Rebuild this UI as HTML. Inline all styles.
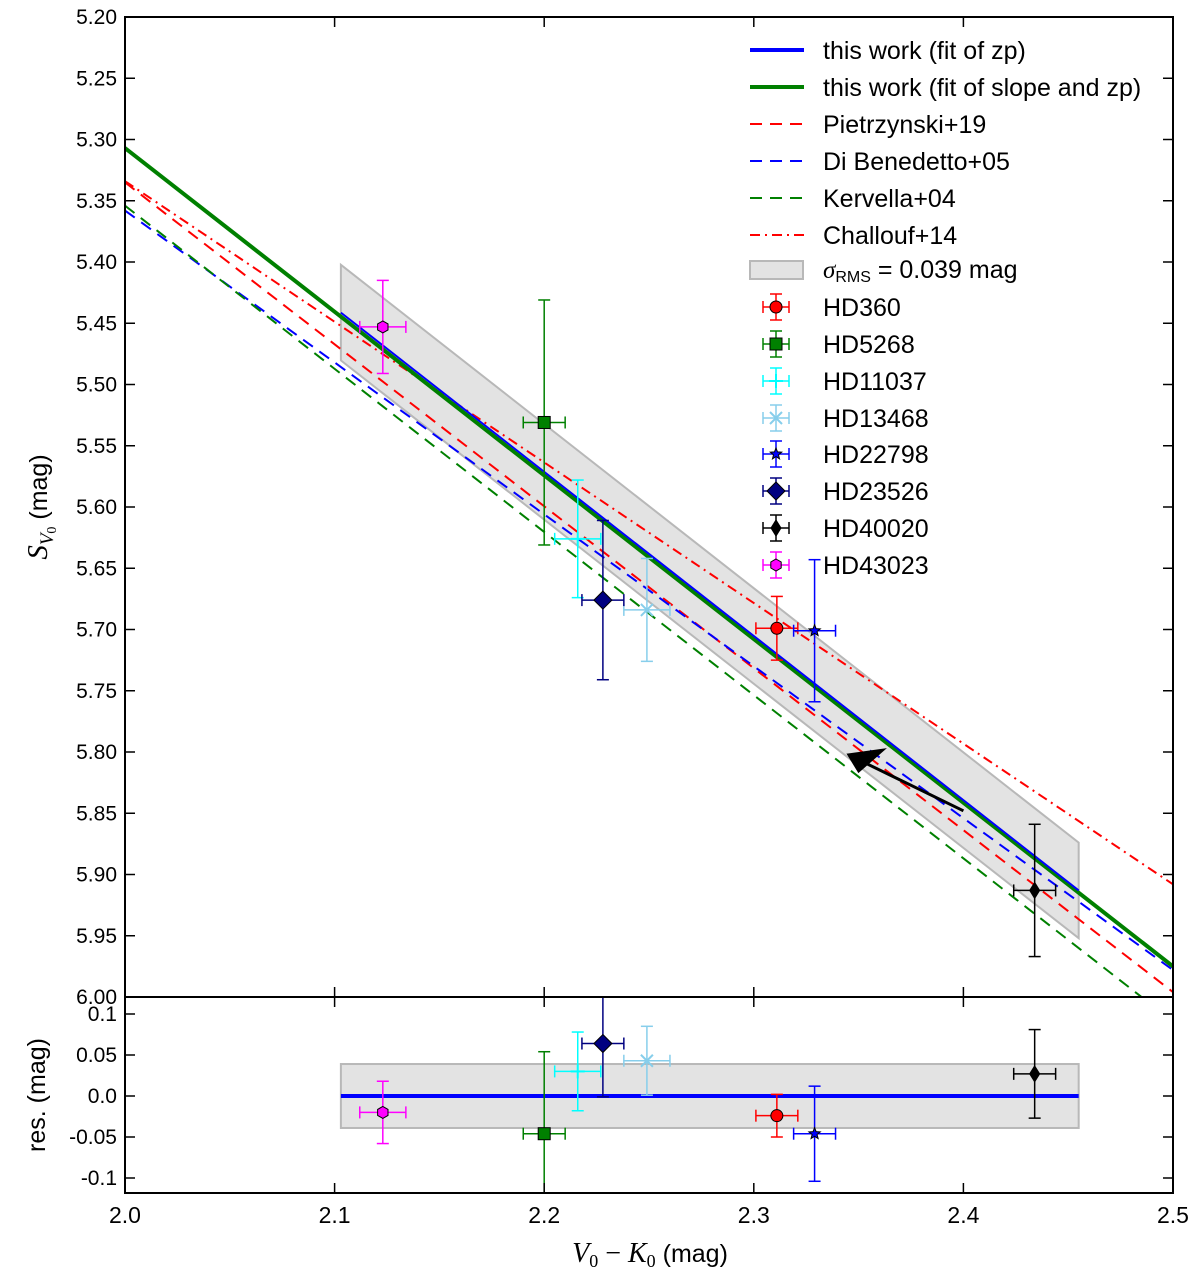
<!DOCTYPE html>
<html><head><meta charset="utf-8"><style>
html,body{margin:0;padding:0;background:#fff;}
svg{display:block;font-family:"Liberation Sans",sans-serif;}
</style></head><body>
<svg id="chart" width="1200" height="1278" viewBox="0 0 1200 1278" xmlns="http://www.w3.org/2000/svg">
<defs>
<clipPath id="clipTop"><rect x="125" y="17" width="1048" height="980"/></clipPath>
<clipPath id="clipBot"><rect x="125" y="997" width="1048" height="196"/></clipPath>
</defs>
<g id="topPanel" clip-path="url(#clipTop)"></g>
<g id="botPanel" clip-path="url(#clipBot)"></g>
<g id="axes"></g>
<g id="legend"></g>
</svg>
<script>
const stars = ["HD360","HD5268","HD11037","HD13468","HD22798","HD23526","HD40020","HD43023"];
const colorVK = [2.311,2.200,2.216,2.249,2.329,2.228,2.434,2.123];
const colorErr = [0.010,0.010,0.011,0.011,0.010,0.010,0.010,0.011];
const sbValues = [5.699,5.531,5.626,5.684,5.701,5.676,5.913,5.453];
const sbErr = [0.026,0.100,0.048,0.042,0.058,0.065,0.054,0.038];
const residuals = [-0.024,-0.046,0.030,0.043,-0.046,0.064,0.027,-0.020];
const colors = ["#ff0000","#008000","#00ffff","#87ceeb","#0000ff","#000080","#000000","#ff00ff"];
const markers = ["circle","square","plus","x","star","diamond","thin","hexagon"];
const yTicks = [5.20,5.25,5.30,5.35,5.40,5.45,5.50,5.55,5.60,5.65,5.70,5.75,5.80,5.85,5.90,5.95,6.00];
const rTicks = [0.1,0.05,0.0,-0.05,-0.1];
const rTickLabels = ["0.1","0.05","0.0","-0.05","-0.1"];
const xTicks = [2.0,2.1,2.2,2.3,2.4,2.5];
const relNames = ["Pietrzynski+19","Di Benedetto+05","Kervella+04","Challouf+14"];
const relIntercepts = [5.335,5.358,5.354,5.334];
const relSlopes = [1.322,1.240,1.332,1.148];
const fitZpAt = [2.103,2.455];
const fitZpSlope = 1.34, fitZpRef = 5.913;
const fitSZIntercept = 5.307, fitSZSlope = 1.336;
const sigmaRMS = 0.039;

const X = v => 125 + (v-2.0)*2096;
const Y = v => 17 + (v-5.20)*1225;
const R = v => 1096 - v*820;
const NS="http://www.w3.org/2000/svg";
function mk(tag, attrs, parent){const e=document.createElementNS(NS,tag);for(const k in attrs)e.setAttribute(k,attrs[k]);parent.appendChild(e);return e;}
const gTop=document.getElementById('topPanel'), gBot=document.getElementById('botPanel'), axes=document.getElementById('axes'), leg=document.getElementById('legend');
const zp = v => fitZpRef + (v-2.455)*fitZpSlope;

let b=mk('polygon',{points:`${X(fitZpAt[0])},${Y(zp(fitZpAt[0])-sigmaRMS)} ${X(fitZpAt[1])},${Y(zp(fitZpAt[1])-sigmaRMS)} ${X(fitZpAt[1])},${Y(zp(fitZpAt[1])+sigmaRMS)} ${X(fitZpAt[0])},${Y(zp(fitZpAt[0])+sigmaRMS)}`,fill:'#e3e3e3',stroke:'#b8b8b8','stroke-width':2},gTop);


const relColors=["#ff0000","#0000ff","#008000","#ff0000"];
const relDash=["12,8","12,8","12,8","10,5,2,5"];
relNames.forEach((n,i)=>{
  const l=mk('line',{x1:X(2.0),y1:Y(relIntercepts[i]),x2:X(2.5),y2:Y(relIntercepts[i]+0.5*relSlopes[i]),stroke:relColors[i],'stroke-width':2,'stroke-dasharray':relDash[i]},gTop);
  
  
});
let gl=mk('line',{x1:X(2.0),y1:Y(fitSZIntercept),x2:X(2.5),y2:Y(fitSZIntercept+0.5*fitSZSlope),stroke:'#008000','stroke-width':4},gTop);


let bl=mk('line',{x1:X(fitZpAt[0]),y1:Y(zp(fitZpAt[0])),x2:X(fitZpAt[1]),y2:Y(zp(fitZpAt[1])),stroke:'#0000ff','stroke-width':2},gTop);


let ar=mk('line',{x1:X(2.40),y1:Y(5.848),x2:X(2.352),y2:Y(5.808),stroke:'#000','stroke-width':3},gTop);


mk('polygon',{points:`${X(2.345)},${Y(5.802)} ${X(2.362)},${Y(5.798)} ${X(2.350)},${Y(5.816)}`,fill:'#000',stroke:'#000','stroke-width':2},gTop);

let bb=mk('rect',{x:X(fitZpAt[0]),y:R(sigmaRMS),width:X(fitZpAt[1])-X(fitZpAt[0]),height:R(-sigmaRMS)-R(sigmaRMS),fill:'#e3e3e3',stroke:'#b8b8b8','stroke-width':2},gBot);


let zl=mk('line',{x1:X(fitZpAt[0]),y1:R(0),x2:X(fitZpAt[1]),y2:R(0),stroke:'#0000ff','stroke-width':4},gBot);



function marker(g,type,cx,cy,c){
  const st={fill:c,stroke:'#000','stroke-width':1};
  if(type==='circle')mk('circle',Object.assign({cx,cy,r:6},st),g);
  else if(type==='square')mk('rect',Object.assign({x:cx-6,y:cy-6,width:12,height:12},st),g);
  else if(type==='plus'){mk('line',{x1:cx-7,y1:cy,x2:cx+7,y2:cy,stroke:c,'stroke-width':2},g);mk('line',{x1:cx,y1:cy-7,x2:cx,y2:cy+7,stroke:c,'stroke-width':2},g);}
  else if(type==='x'){mk('line',{x1:cx-6,y1:cy-6,x2:cx+6,y2:cy+6,stroke:c,'stroke-width':2},g);mk('line',{x1:cx-6,y1:cy+6,x2:cx+6,y2:cy-6,stroke:c,'stroke-width':2},g);}
  else if(type==='star'){let p=[];for(let k=0;k<10;k++){const a=-Math.PI/2+k*Math.PI/5,r=k%2?2.6:6;p.push((cx+r*Math.cos(a))+','+(cy+r*Math.sin(a)));}mk('polygon',Object.assign({points:p.join(' ')},st),g);}
  else if(type==='diamond')mk('polygon',Object.assign({points:`${cx},${cy-9} ${cx+9},${cy} ${cx},${cy+9} ${cx-9},${cy}`},st),g);
  else if(type==='thin')mk('polygon',Object.assign({points:`${cx},${cy-8} ${cx+5},${cy} ${cx},${cy+8} ${cx-5},${cy}`},st),g);
  else if(type==='hexagon'){let p=[];for(let k=0;k<6;k++){const a=-Math.PI/2+k*Math.PI/3;p.push((cx+6*Math.cos(a))+','+(cy+6*Math.sin(a)));}mk('polygon',Object.assign({points:p.join(' ')},st),g);}
}
function errbar(g,cx,cy,x0,x1,y0,y1,c){
  mk('line',{x1:x0,y1:cy,x2:x1,y2:cy,stroke:c,'stroke-width':1.5},g);
  mk('line',{x1:cx,y1:y0,x2:cx,y2:y1,stroke:c,'stroke-width':1.5},g);
  mk('line',{x1:x0,y1:cy-6,x2:x0,y2:cy+6,stroke:c,'stroke-width':1.5},g);
  mk('line',{x1:x1,y1:cy-6,x2:x1,y2:cy+6,stroke:c,'stroke-width':1.5},g);
  mk('line',{x1:cx-6,y1:y0,x2:cx+6,y2:y0,stroke:c,'stroke-width':1.5},g);
  mk('line',{x1:cx-6,y1:y1,x2:cx+6,y2:y1,stroke:c,'stroke-width':1.5},g);
}
stars.forEach((s,i)=>{
  const g=mk('g',{},gTop);
  
  
  const cx=X(colorVK[i]),cy=Y(sbValues[i]);
  errbar(g,cx,cy,X(colorVK[i]-colorErr[i]),X(colorVK[i]+colorErr[i]),Y(sbValues[i]-sbErr[i]),Y(sbValues[i]+sbErr[i]),colors[i]);
  marker(g,markers[i],cx,cy,colors[i]);
  const h=mk('g',{},gBot);
  
  
  const ry=R(residuals[i]);
  errbar(h,cx,ry,X(colorVK[i]-colorErr[i]),X(colorVK[i]+colorErr[i]),R(residuals[i]+sbErr[i]),R(residuals[i]-sbErr[i]),colors[i]);
  marker(h,markers[i],cx,ry,colors[i]);
});

[[17,997],[997,1193]].forEach(([t,bm],k)=>{
  const r=mk('rect',{x:125,y:t,width:1048,height:bm-t,fill:'none',stroke:'#000','stroke-width':2},axes);
  
  
});
function txt(s,x,y,anchor,size,parent){const t=mk('text',{x,y,'text-anchor':anchor,'font-size':size},parent||axes);t.textContent=s;return t;}
yTicks.forEach(v=>{
  const y=Y(v);
  mk('line',{x1:125,y1:y,x2:135,y2:y,stroke:'#000','stroke-width':1.5},axes);
  mk('line',{x1:1163,y1:y,x2:1173,y2:y,stroke:'#000','stroke-width':1.5},axes);
  const t=txt(v.toFixed(2),117,y+7,'end',21);
  
  
});
rTicks.forEach((v,i)=>{
  const y=R(v);
  mk('line',{x1:125,y1:y,x2:135,y2:y,stroke:'#000','stroke-width':1.5},axes);
  mk('line',{x1:1163,y1:y,x2:1173,y2:y,stroke:'#000','stroke-width':1.5},axes);
  const t=txt(rTickLabels[i],117,y+7,'end',21);
  
  
});
xTicks.forEach(v=>{
  const x=X(v);
  [[17,27],[987,1007],[1183,1193]].forEach(([a,c])=>mk('line',{x1:x,y1:a,x2:x,y2:c,stroke:'#000','stroke-width':1.5},axes));
  const t=txt(v.toFixed(1),x,1223,'middle',23);
  
  
});
let yt=mk('text',{x:0,y:0,'font-size':25,'text-anchor':'middle',transform:'translate(47,507) rotate(-90)'},axes);
yt.innerHTML='<tspan font-family="Liberation Serif" font-style="italic" font-size="29">S</tspan><tspan font-family="Liberation Serif" font-style="italic" font-size="19" dy="6">V</tspan><tspan font-family="Liberation Serif" font-size="14" dy="3">0</tspan><tspan dy="-9"> (mag)</tspan>';


let rt=mk('text',{x:0,y:0,'font-size':25,'text-anchor':'middle',transform:'translate(45,1095) rotate(-90)'},axes);
rt.textContent='res. (mag)';


let xt=mk('text',{x:650,y:1262,'font-size':28,'text-anchor':'middle','font-family':'Liberation Serif'},axes);
xt.innerHTML='<tspan font-style="italic">V</tspan><tspan font-size="18" dy="5">0</tspan><tspan dy="-5"> − </tspan><tspan font-style="italic">K</tspan><tspan font-size="18" dy="5">0</tspan><tspan dy="-5" font-family="Liberation Sans" font-size="25"> (mag)</tspan>';



const lineEntries=[["this work (fit of zp)","#0000ff",4,""],["this work (fit of slope and zp)","#008000",4,""],["Pietrzynski+19","#ff0000",2,"12,8"],["Di Benedetto+05","#0000ff",2,"12,8"],["Kervella+04","#008000",2,"12,8"],["Challouf+14","#ff0000",2,"10,5,2,5"]];
const lineRows=[50,87,124,161,198,235];
lineEntries.forEach((e,i)=>{
  const g=mk('g',{},leg);
  
  
  mk('line',{x1:750,y1:lineRows[i],x2:804,y2:lineRows[i],stroke:e[1],'stroke-width':e[2],'stroke-dasharray':e[3]},g);
  txt(e[0],823,lineRows[i]+9,'start',25,g);
});
{
  const g=mk('g',{},leg);
  
  
  mk('rect',{x:750,y:261,width:53,height:18,fill:'#e3e3e3',stroke:'#b8b8b8','stroke-width':2},g);
  const t=mk('text',{x:823,y:278,'font-size':25},g);
  t.innerHTML='<tspan font-family="Liberation Serif" font-style="italic">σ</tspan><tspan font-size="16" dy="4">RMS</tspan><tspan dy="-4"> = 0.039 mag</tspan>';
}
const ptRows=[307,344,381,418,454,491,528,565];
stars.forEach((s,i)=>{
  const g=mk('g',{},leg);
  
  
  const cx=776,cy=ptRows[i];
  errbar(g,cx,cy,763,789,cy-13,cy+13,colors[i]);
  marker(g,markers[i],cx,cy,colors[i]);
  txt(s,823,cy+9,'start',25,g);
});
</script>
</body></html>
